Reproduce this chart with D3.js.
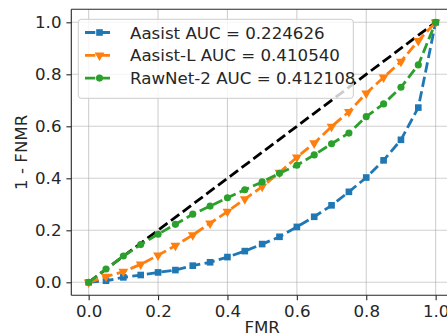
<!DOCTYPE html>
<html>
<head>
<meta charset="utf-8">
<script src="https://cdn.jsdelivr.net/npm/d3@7"></script>
<style>
  body { margin: 0; background: #fff; }
  text { font-family: "DejaVu Sans", sans-serif; fill: #262626; }
</style>
</head>
<body>
<svg id="chart" width="447" height="336"></svg>
<script>
// FMR thresholds shared by every curve
let fmr = [0, 0.05, 0.1, 0.15, 0.2, 0.25, 0.3, 0.35, 0.4, 0.45, 0.5,
           0.55, 0.6, 0.65, 0.7, 0.75, 0.8, 0.85, 0.9, 0.95, 1.0];

let aasist = [0, 0.006, 0.019, 0.028, 0.038, 0.047, 0.064, 0.077, 0.097, 0.120, 0.147,
              0.175, 0.213, 0.252, 0.296, 0.348, 0.403, 0.469, 0.548, 0.672, 1.0];

let aasistL = [0, 0.022, 0.041, 0.069, 0.104, 0.141, 0.182, 0.227, 0.272, 0.320, 0.368,
               0.422, 0.481, 0.535, 0.599, 0.656, 0.727, 0.788, 0.849, 0.929, 1.0];

let rawnet2 = [0, 0.051, 0.101, 0.145, 0.185, 0.223, 0.262, 0.293, 0.325, 0.356, 0.386,
               0.419, 0.450, 0.490, 0.533, 0.574, 0.637, 0.686, 0.750, 0.836, 1.0];

let seriesNames = ["Aasist AUC = 0.224626", "Aasist-L AUC = 0.410540", "RawNet-2 AUC = 0.412108"];
let seriesColors = ["#1f77b4", "#ff7f0e", "#2ca02c"];
let seriesMarkers = ["square", "triangle", "circle"];

let diagonal = [0, 1];

let xTicks = [0, 0.2, 0.4, 0.6, 0.8, 1.0];
let yTicks = [0, 0.2, 0.4, 0.6, 0.8, 1.0];

let svg = d3.select("#chart");

let pLeft = 71.3, pRight = 453, pTop = 9.3, pBottom = 295.3;

let x = d3.scaleLinear().domain([-0.05, 1.05]).range([pLeft, pRight]);
let y = d3.scaleLinear().domain([-0.05, 1.05]).range([pBottom, pTop]);

// grid
let grid = svg.append("g");
xTicks.forEach(function(t){
    grid.append("line")
        .attr("x1", x(t)).attr("x2", x(t))
        .attr("y1", pTop).attr("y2", pBottom)
        .attr("stroke", "#b0b0b0").attr("stroke-opacity", 0.6).attr("stroke-width", 1.1);
});
yTicks.forEach(function(t){
    grid.append("line")
        .attr("x1", pLeft).attr("x2", pRight)
        .attr("y1", y(t)).attr("y2", y(t))
        .attr("stroke", "#b0b0b0").attr("stroke-opacity", 0.6).attr("stroke-width", 1.1);
});

// axes
let xAxis = d3.axisBottom(x).tickValues(xTicks).tickFormat(d3.format(".1f")).tickSizeOuter(0).tickSize(4.9).tickPadding(4.9);
let yAxis = d3.axisLeft(y).tickValues(yTicks).tickFormat(d3.format(".1f")).tickSizeOuter(0).tickSize(4.9).tickPadding(4.9);

let gx = svg.append("g").attr("transform", "translate(0," + pBottom + ")").call(xAxis);
let gy = svg.append("g").attr("transform", "translate(" + pLeft + ",0)").call(yAxis);

[gx, gy].forEach(function(g){
    g.select(".domain").remove();
    g.selectAll(".tick line").attr("stroke", "#262626").attr("stroke-width", 1.1);
    g.selectAll(".tick text")
        .style("font-family", "DejaVu Sans")
        .style("font-size", "16.67px")
        .attr("fill", "#262626");
});

// spines
svg.append("line").attr("x1", pLeft).attr("x2", pLeft).attr("y1", pTop).attr("y2", pBottom)
    .attr("stroke", "#262626").attr("stroke-width", 1.1);
svg.append("line").attr("x1", pLeft).attr("x2", pRight).attr("y1", pBottom).attr("y2", pBottom)
    .attr("stroke", "#262626").attr("stroke-width", 1.1);
svg.append("line").attr("x1", pLeft).attr("x2", pRight).attr("y1", pTop).attr("y2", pTop)
    .attr("stroke", "#262626").attr("stroke-width", 1.1);
svg.append("line").attr("x1", pRight).attr("x2", pRight).attr("y1", pTop).attr("y2", pBottom)
    .attr("stroke", "#262626").attr("stroke-width", 1.1);

// axis labels
svg.append("text")
    .attr("x", (pLeft + pRight) / 2).attr("y", 333)
    .attr("text-anchor", "middle")
    .style("font-size", "16.67px")
    .text("FMR");

svg.append("text")
    .attr("transform", "translate(27," + ((pTop + pBottom) / 2) + ") rotate(-90)")
    .attr("text-anchor", "middle")
    .style("font-size", "16.67px")
    .text("1 - FNMR");

let dash = "10.3,4.4";
let line = d3.line().x(d => x(d[0])).y(d => y(d[1]));

// chance line
svg.append("path")
    .datum(diagonal.map(d => [d, d]))
    .attr("d", line)
    .attr("fill", "none")
    .attr("stroke", "#000")
    .attr("stroke-width", 2.8)
    .attr("stroke-dasharray", dash);

function symbolFor(name){
    if(name === "square"){
        return d3.symbol().type(d3.symbolSquare).size(44)();
    }
    if(name === "triangle"){
        return d3.symbol().type(d3.symbolTriangle).size(42)();
    }
    return d3.symbol().type(d3.symbolCircle).size(40)();
}

let allSeries = [aasist, aasistL, rawnet2];

allSeries.forEach(function(vals, i){
    let pts = fmr.map((f, j) => [f, vals[j]]);
    svg.append("path")
        .datum(pts)
        .attr("d", line)
        .attr("fill", "none")
        .attr("stroke", seriesColors[i])
        .attr("stroke-width", 2.8)
        .attr("stroke-dasharray", dash);
    let rot = seriesMarkers[i] === "triangle" ? " rotate(180)" : "";
    svg.append("g").selectAll("path")
        .data(pts)
        .enter()
        .append("path")
        .attr("d", symbolFor(seriesMarkers[i]))
        .attr("transform", d => "translate(" + x(d[0]) + "," + y(d[1]) + ")" + rot)
        .attr("fill", seriesColors[i]);
});

// legend
let lg = svg.append("g");
lg.append("rect")
    .attr("x", 78.3).attr("y", 19.3)
    .attr("width", 275).attr("height", 79)
    .attr("rx", 3)
    .attr("fill", "#fff").attr("fill-opacity", 0.8)
    .attr("stroke", "#cccccc").attr("stroke-width", 1);

seriesNames.forEach(function(name, i){
    let cy = 32.5 + i * 22.8;
    lg.append("line")
        .attr("x1", 85).attr("x2", 114)
        .attr("y1", cy).attr("y2", cy)
        .attr("stroke", seriesColors[i])
        .attr("stroke-width", 2.8)
        .attr("stroke-dasharray", dash);
    let rot = seriesMarkers[i] === "triangle" ? " rotate(180)" : "";
    lg.append("path")
        .attr("d", symbolFor(seriesMarkers[i]))
        .attr("transform", "translate(99.5," + cy + ")" + rot)
        .attr("fill", seriesColors[i]);
    lg.append("text")
        .attr("x", 130).attr("y", cy + 6)
        .style("font-size", "16.67px")
        .text(name);
});
</script>
</body>
</html>
